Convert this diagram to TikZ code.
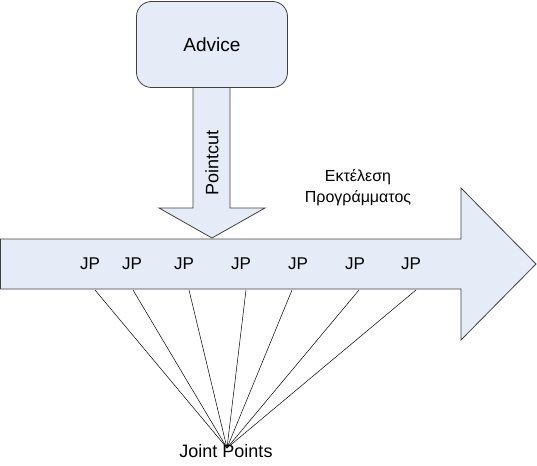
\documentclass[tikz,border=0pt]{standalone}
\usepackage{fontspec}
\setmainfont{Liberation Sans}
\definecolor{blockfill}{RGB}{230,236,247}
\begin{document}
\begin{tikzpicture}[x=1pt,y=-1pt,
  blockshape/.style={draw=black!75, fill=blockfill, line width=0.8pt},
  lbl/.style={font=\fontsize{18}{21}\selectfont, inner sep=0pt},
  ray/.style={draw=black, line width=0.5pt}]
\useasboundingbox (0,0) rectangle (537,465);
\draw[blockshape] (0.4,239) -- (461,239) -- (461,188) -- (536,264) -- (461,340) -- (461,289) -- (0.4,289) -- cycle;
\draw[blockshape] (193,88) -- (193,208) -- (159,208) -- (212,238) -- (265,208) -- (230,208) -- (230,88);
\node[blockshape, lbl, rounded corners=15pt, minimum width=151pt, minimum height=86pt] (advice) at (212,44.5) {\fontsize{19}{21}\selectfont Advice};
\node[lbl, rotate=90] (pointcut) at (212,163) {Pointcut};
\node[lbl, align=center, font=\fontsize{16}{21}\selectfont] (exec) at (358,188) {Εκτέλεση\\Προγράμματος};
\foreach \x [count=\i] in {90,132,184,241,298,355,411}
  \node[lbl, font=\fontsize{17}{20}\selectfont] (jp\i) at (\x,264) {JP};
\node[lbl] (joint) at (226,451) {Joint Points};
\coordinate (hub) at (227,448);
\foreach \x [count=\i] in {95,133,189,246,292,359,416} {
  \coordinate (foot\i) at (\x,290);
  \draw[ray] (foot\i) -- (hub);
}
\end{tikzpicture}
\end{document}
